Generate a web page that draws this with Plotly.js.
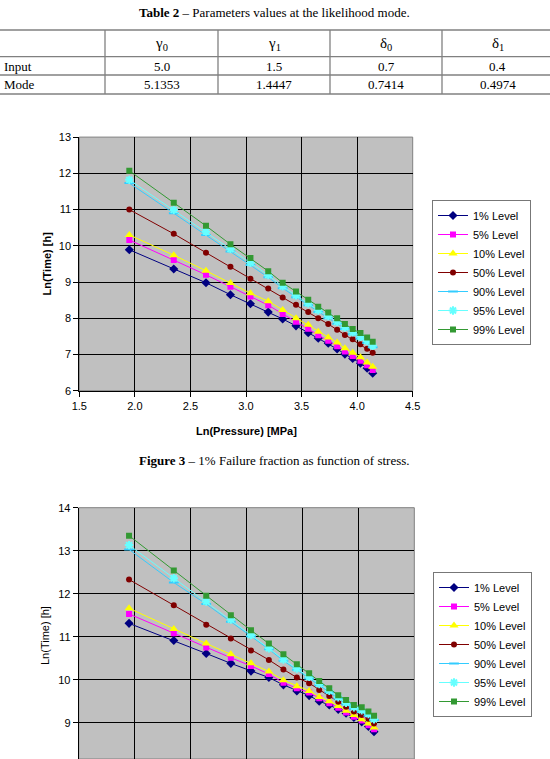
<!DOCTYPE html>
<html>
<head>
<meta charset="utf-8">
<script src="https://cdn.plot.ly/plotly-3.0.1.min.js"></script>
<style>
  html, body { margin: 0; padding: 0; background: #fff; overflow: hidden; }
  #page { width: 550px; height: 759px; }
</style>
</head>
<body>
<div id="page"></div>
<script>
// ---- Table 2 contents ----
const tableHeaders = ['γ<sub>0</sub>', 'γ<sub>1</sub>', 'δ<sub>0</sub>', 'δ<sub>1</sub>'];
const tableRowNames = ['Input', 'Mode'];
const inputValues = ['5.0', '1.5', '0.7', '0.4'];
const modeValues = ['5.1353', '1.4447', '0.7414', '0.4974'];

// ---- Shared x values: Ln(Pressure) [MPa] ----
const lnPressure = [1.95, 2.35, 2.64, 2.86, 3.04, 3.20, 3.33, 3.45, 3.56, 3.65, 3.74, 3.82, 3.89, 3.96, 4.03, 4.09, 4.14];
const levelNames = ['1% Level', '5% Level', '10% Level', '50% Level', '90% Level', '95% Level', '99% Level'];

// ---- Upper chart: Ln(Time) [h] per level ----
const upperL01 = [9.89, 9.36, 8.98, 8.65, 8.40, 8.17, 7.98, 7.79, 7.60, 7.45, 7.31, 7.15, 7.01, 6.89, 6.76, 6.62, 6.48];
const upperL05 = [10.16, 9.61, 9.20, 8.87, 8.60, 8.36, 8.12, 7.90, 7.71, 7.53, 7.38, 7.23, 7.08, 6.96, 6.83, 6.70, 6.57];
const upperL10 = [10.30, 9.74, 9.31, 8.97, 8.69, 8.47, 8.23, 8.00, 7.82, 7.63, 7.47, 7.33, 7.17, 7.05, 6.92, 6.78, 6.66];
const upperL50 = [11.00, 10.33, 9.81, 9.42, 9.09, 8.82, 8.57, 8.37, 8.17, 8.00, 7.84, 7.68, 7.54, 7.42, 7.28, 7.16, 7.05];
const upperL90 = [11.73, 10.90, 10.30, 9.84, 9.47, 9.13, 8.83, 8.58, 8.36, 8.17, 8.00, 7.85, 7.70, 7.56, 7.44, 7.32, 7.20];
const upperL95 = [11.82, 10.99, 10.39, 9.91, 9.53, 9.19, 8.88, 8.63, 8.41, 8.22, 8.06, 7.90, 7.75, 7.61, 7.49, 7.37, 7.24];
const upperL99 = [12.07, 11.19, 10.55, 10.04, 9.66, 9.30, 8.98, 8.74, 8.51, 8.32, 8.16, 8.00, 7.84, 7.70, 7.59, 7.47, 7.35];

// ---- Lower chart: Ln(Time) [h] per level ----
const lowerL01 = [11.31, 10.91, 10.61, 10.38, 10.20, 10.05, 9.88, 9.74, 9.63, 9.50, 9.41, 9.31, 9.22, 9.12, 9.02, 8.91, 8.79];
const lowerL05 = [11.53, 11.08, 10.75, 10.51, 10.32, 10.13, 9.93, 9.80, 9.70, 9.57, 9.45, 9.35, 9.24, 9.14, 9.05, 8.94, 8.85];
const lowerL10 = [11.66, 11.18, 10.84, 10.59, 10.38, 10.19, 9.99, 9.85, 9.74, 9.60, 9.50, 9.39, 9.28, 9.18, 9.08, 8.98, 8.89];
const lowerL50 = [12.33, 11.73, 11.28, 10.96, 10.68, 10.46, 10.24, 10.05, 9.92, 9.76, 9.62, 9.49, 9.37, 9.26, 9.18, 9.09, 8.98];
const lowerL90 = [13.03, 12.26, 11.76, 11.35, 11.01, 10.71, 10.44, 10.23, 10.03, 9.87, 9.71, 9.56, 9.43, 9.33, 9.25, 9.16, 9.06];
const lowerL95 = [13.13, 12.36, 11.82, 11.40, 11.04, 10.73, 10.47, 10.26, 10.07, 9.90, 9.74, 9.59, 9.46, 9.36, 9.29, 9.20, 9.08];
const lowerL99 = [13.35, 12.54, 11.95, 11.50, 11.15, 10.84, 10.59, 10.36, 10.15, 9.97, 9.80, 9.64, 9.53, 9.41, 9.36, 9.26, 9.16];

// ---- Page geometry helpers (page pixels -> paper fraction) ----
const W = 550, H = 759;
const px = v => v / W;
const py = v => 1 - v / H;

const SANS = 'Liberation Sans, Arial, sans-serif';
const SERIF = 'Liberation Serif, Times New Roman, serif';

// Marker / line style for each level
const levelStyles = [
  { color: '#000080', symbol: 'diamond', size: 7 },
  { color: '#FF00FF', symbol: 'square', size: 6 },
  { color: '#FFFF00', symbol: 'triangle-up', size: 8 },
  { color: '#800000', symbol: 'circle', size: 6 },
  { color: '#33CCFF', symbol: 'line-ew', size: 7, lineOnly: true },
  { color: '#66FFFF', symbol: 'asterisk', size: 7, lineOnly: true },
  { color: '#339933', symbol: 'square', size: 6 }
];

function makeTraces(seriesList, xa, ya, legendId) {
  return seriesList.map((ys, i) => {
    const s = levelStyles[i];
    const marker = { symbol: s.symbol, size: s.size, color: s.color };
    if (s.lineOnly) marker.line = { color: s.color, width: 2 };
    else marker.line = { width: 0 };
    return {
      type: 'scatter', mode: 'lines+markers',
      x: lnPressure, y: ys, name: levelNames[i],
      xaxis: xa, yaxis: ya, legend: legendId,
      line: { color: s.color, width: 1 },
      marker: marker
    };
  });
}

const traces = [].concat(
  makeTraces([upperL01, upperL05, upperL10, upperL50, upperL90, upperL95, upperL99], 'x', 'y', 'legend'),
  makeTraces([lowerL01, lowerL05, lowerL10, lowerL50, lowerL90, lowerL95, lowerL99], 'x2', 'y2', 'legend2')
);

// ---- Plot area positions ----
const up = { l: 79.3, r: 412.7, t: 137.1, b: 390.7 };
const lo = { l: 78.7, r: 414.3, t: 507.7, b: 759 };
const loYmin = 8 + (765.7 - 759) / 43;   // lower chart continues past the page bottom

function axisX(dom, anchor, showLabels) {
  return {
    domain: [px(dom.l), px(dom.r)], anchor: anchor,
    range: [1.5, 4.5], tick0: 1.5, dtick: 0.5, tickformat: '.1f',
    showgrid: true, gridcolor: '#000', gridwidth: 1, zeroline: false,
    showline: true, linecolor: '#000', linewidth: 1,
    ticks: showLabels ? 'outside' : '', ticklen: 5, tickcolor: '#000', tickwidth: 1,
    showticklabels: showLabels,
    tickfont: { family: SANS, size: 11, color: '#000' }, fixedrange: true
  };
}
function axisY(dom, anchor, range) {
  return {
    domain: [py(dom.b), py(dom.t)], anchor: anchor,
    range: range, tick0: 0, dtick: 1,
    showgrid: true, gridcolor: '#000', gridwidth: 1, zeroline: false,
    showline: true, linecolor: '#000', linewidth: 1,
    ticks: 'outside', ticklen: 5, tickcolor: '#000', tickwidth: 1,
    tickfont: { family: SANS, size: 11, color: '#000' }, fixedrange: true
  };
}

const shapes = [];
// table rules
[30, 56.7, 75, 94].forEach(yv => shapes.push({
  type: 'line', xref: 'paper', yref: 'paper',
  x0: 0, x1: 1, y0: py(yv), y1: py(yv), line: { color: '#808080', width: 1.3 }
}));
const colEdges = [105, 218, 330, 442];
colEdges.forEach(xv => shapes.push({
  type: 'line', xref: 'paper', yref: 'paper',
  x0: px(xv), x1: px(xv), y0: py(30), y1: py(94), line: { color: '#808080', width: 1.3 }
}));
// plot-area frames
shapes.push({ type: 'rect', xref: 'x domain', yref: 'y domain', x0: 0, x1: 1, y0: 0, y1: 1,
  line: { color: '#808080', width: 1 }, layer: 'below' });
shapes.push({ type: 'rect', xref: 'x2 domain', yref: 'y2 domain', x0: 0, x1: 1, y0: 0, y1: 1.0,
  line: { color: '#808080', width: 1 }, layer: 'below' });

const annotations = [];
function addText(text, x, y, font, xanchor, extra) {
  annotations.push(Object.assign({
    text: text, xref: 'paper', yref: 'paper', x: px(x), y: py(y),
    xanchor: xanchor || 'center', yanchor: 'middle', showarrow: false, font: font
  }, extra || {}));
}
const serif13 = { family: SERIF, size: 13, color: '#000' };
const serif15 = { family: SERIF, size: 15, color: '#000' };

addText('<b>Table 2</b> – Parameters values at the likelihood mode.', 274, 13, serif13);
const colCenters = [161.5, 274, 386, 498];
tableHeaders.forEach((h, i) => addText(h, colCenters[i], 44, serif15));
addText(tableRowNames[0], 2, 66.5, serif13, 'left');
addText(tableRowNames[1], 2, 85, serif13, 'left');
inputValues.forEach((v, i) => addText(v, colCenters[i], 66.5, serif13));
modeValues.forEach((v, i) => addText(v, colCenters[i], 85, serif13));

// axis titles
addText('<b>Ln(Time) [h]</b>', 46.5, 264, { family: SANS, size: 11, color: '#000' }, 'center', { textangle: -90 });
addText('<b>Ln(Pressure) [MPa]</b>', 246, 431, { family: SANS, size: 11, color: '#000' });
addText('Ln(Time) [h]', 45, 636, { family: SANS, size: 11, color: '#000' }, 'center', { textangle: -90 });

// caption
addText('<b>Figure 3</b> – 1% Failure fraction as function of stress.', 274, 460, serif13);

const legendBase = {
  xanchor: 'left', yanchor: 'top',
  bgcolor: '#fff', bordercolor: '#777', borderwidth: 1,
  font: { family: SANS, size: 11, color: '#000' },
  itemwidth: 30, tracegroupgap: 0, traceorder: 'normal'
};

const layout = {
  width: W, height: H,
  margin: { l: 0, r: 0, t: 0, b: 0 },
  paper_bgcolor: '#fff', plot_bgcolor: '#C0C0C0',
  showlegend: true,
  xaxis: axisX(up, 'y', true),
  yaxis: axisY(up, 'x', [6, 13]),
  xaxis2: axisX(lo, 'y2', false),
  yaxis2: axisY(lo, 'x2', [loYmin, 14]),
  legend: Object.assign({ x: px(432), y: py(200) }, legendBase),
  legend2: Object.assign({ x: px(433), y: py(572) }, legendBase),
  shapes: shapes,
  annotations: annotations
};

Plotly.newPlot('page', traces, layout, { staticPlot: true, displayModeBar: false });
</script>
</body>
</html>
